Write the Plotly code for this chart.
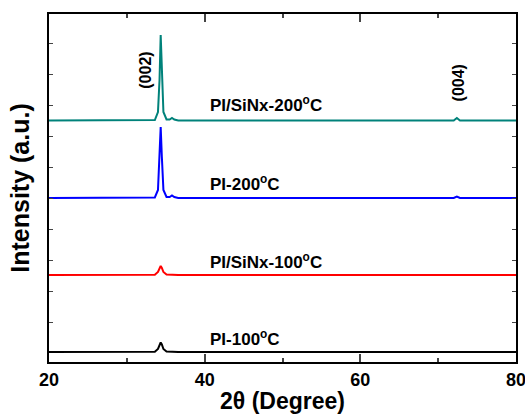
import plotly.graph_objects as go

# 2-theta sampling points (degrees)
two_theta = [20, 25, 30, 33.6, 34.0, 34.2, 34.35, 34.5, 34.7, 35.1, 35.5, 35.8, 36.1, 36.6,
             45, 55, 65, 72.0, 72.4, 72.8, 76, 80]

# intensities (arbitrary units, already vertically offset)
pi_sinx_200 = [241.5, 241.8, 241.5, 242.0, 250, 282, 327, 282, 250, 242.5, 242.5, 244, 242.5, 241.5,
               241.5, 241.8, 241.5, 241.5, 244, 241.5, 241.5, 241.5]
pi_200 = [164, 164.3, 164, 164.5, 172, 205, 235, 205, 172, 165, 165, 166.5, 165, 164,
          164, 164.3, 164, 164, 165.5, 164, 164, 164]
pi_sinx_100 = [87, 87.3, 87, 87.3, 90, 94, 96, 94, 90, 87.5, 87.2, 87.2, 87, 87,
               87, 87.3, 87, 87, 87.3, 87, 87, 87]
pi_100 = [10, 10.3, 10, 10.3, 13, 17.5, 19.5, 17.5, 13, 10.5, 10.2, 10.2, 10, 10,
          10, 10.3, 10, 10, 10.3, 10, 10, 10]

series = [
    ("PI/SiNx-200<sup>o</sup>C", pi_sinx_200, "#00827a", 258.5),
    ("PI-200<sup>o</sup>C", pi_200, "#0000ff", 179.5),
    ("PI/SiNx-100<sup>o</sup>C", pi_sinx_100, "#ff0000", 101),
    ("PI-100<sup>o</sup>C", pi_100, "#000000", 24),
]

label_x = 40.4
y_ticks = [40, 71, 102, 133, 164, 195, 226, 257, 288, 319]
x_ticks = [20, 40, 60, 80]

FONT = "Liberation Sans"

fig = go.Figure()
annotations = []
for name, ys, color, ly in series:
    fig.add_trace(go.Scatter(x=two_theta, y=ys, mode="lines", name=name,
                             line=dict(color=color, width=2), showlegend=False))
    annotations.append(dict(x=label_x, y=ly, xref="x", yref="y", text="<b>" + name + "</b>",
                            showarrow=False, xanchor="left", yanchor="middle",
                            font=dict(family=FONT, size=17, color="black")))

peaks = [("(002)", 32.3, 292), ("(004)", 72.6, 279)]
for txt, px, py in peaks:
    annotations.append(dict(x=px, y=py, xref="x", yref="y", text="<b>" + txt + "</b>",
                            showarrow=False, textangle=-90, xanchor="center", yanchor="middle",
                            font=dict(family=FONT, size=16, color="black")))

fig.update_layout(
    width=525, height=417,
    margin=dict(l=49, r=9, t=14, b=55),
    paper_bgcolor="white", plot_bgcolor="white",
    annotations=annotations,
    font=dict(family=FONT, color="black"),
)
fig.update_xaxes(
    range=[20, 80], tickvals=x_ticks, ticktext=["<b>%d</b>" % v for v in x_ticks],
    ticks="inside", ticklen=8, tickwidth=1.5, ticklabeloverflow="allow",
    minor=dict(dtick=10, tick0=20, ticks="inside", ticklen=4, tickwidth=1.5),
    showline=True, linewidth=2, linecolor="black", mirror="allticks", showgrid=False, zeroline=False,
    tickfont=dict(size=18, family=FONT), automargin=False,
    title=dict(text="<b>2θ (Degree)</b>", font=dict(size=23, family=FONT), standoff=4),
)
fig.update_yaxes(
    range=[0, 348], tickvals=y_ticks, showticklabels=False, ticks="inside", ticklen=4, tickwidth=1,
    showline=True, linewidth=2, linecolor="black", mirror="allticks", showgrid=False, zeroline=False,
    automargin=False,
    title=dict(text="<b>Intensity (a.u.)</b>", font=dict(size=25, family=FONT), standoff=10),
)

fig.write_html("out.html")
